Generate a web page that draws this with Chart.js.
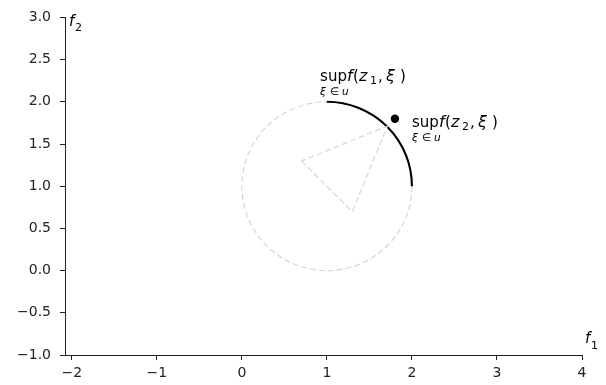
<!DOCTYPE html>
<html>
<head>
<meta charset="utf-8">
<script src="https://cdn.jsdelivr.net/npm/chart.js@4.4.0/dist/chart.umd.min.js"></script>
<style>
  html, body { margin: 0; padding: 0; background: #fff; }
  #wrap { width: 606px; height: 385px; }
</style>
</head>
<body>
<div id="wrap"><canvas id="c" width="606" height="385"></canvas></div>
<script>
// Axis ticks
const xTicks = [-2, -1, 0, 1, 2, 3, 4];
const yTicks = [-1, -0.5, 0, 0.5, 1, 1.5, 2, 2.5, 3];

// Uncertainty set: circle centred at (1, 1) with radius 1
const circleCenter = [1, 1];
const circleRadius = [1];
// Worst-case arc (degrees, counter-clockwise from the f1 direction)
const arcAngles = [0, 90];

// Dashed triangle inside the set
const triangleX = [0.7, 1.3, 1.71, 0.7];
const triangleY = [1.3, 0.7, 1.71, 1.3];

// Worst case of the second design
const pointX = [1.8];
const pointY = [1.8];

// Annotation anchors (left edge / baseline, data units) and their subscripts
const labelSubs = ['1', '2'];
const labelX = [0.92, 2.0];
const labelY = [2.25, 1.70];

const FONT = "'DejaVu Sans', 'Liberation Sans', sans-serif";
const INK = '#222';

function fmt(v, digits) {
  const s = Math.abs(v).toFixed(digits);
  return v < 0 ? '\u2212' + s : s;
}

const shapesPlugin = {
  id: 'shapes',
  beforeDatasetsDraw(chart) {
    const { ctx, scales: { x, y } } = chart;
    const cx = x.getPixelForValue(circleCenter[0]);
    const cy = y.getPixelForValue(circleCenter[1]);
    const rx = Math.abs(x.getPixelForValue(circleCenter[0] + circleRadius[0]) - cx);
    const ry = Math.abs(y.getPixelForValue(circleCenter[1] + circleRadius[0]) - cy);
    ctx.save();
    // dashed outline of the set
    ctx.beginPath();
    ctx.setLineDash([6, 3]);
    ctx.lineWidth = 1.2;
    ctx.strokeStyle = '#d6d6d6';
    ctx.ellipse(cx, cy, rx, ry, 0, 0, Math.PI * 2);
    ctx.stroke();
    // solid worst-case arc
    ctx.beginPath();
    ctx.setLineDash([]);
    ctx.lineWidth = 2.1;
    ctx.strokeStyle = '#000';
    const a0 = -arcAngles[1] * Math.PI / 180;
    const a1 = -arcAngles[0] * Math.PI / 180;
    ctx.ellipse(cx, cy, rx, ry, 0, a0, a1);
    ctx.stroke();
    ctx.restore();
  }
};

const textPlugin = {
  id: 'mathText',
  afterDatasetsDraw(chart) {
    const { ctx, chartArea, scales: { x, y } } = chart;
    const reg = "15px " + FONT;
    const ita = "italic 16px " + FONT;
    const sub = "11px " + FONT;
    const small = "10.5px " + FONT;
    const smallIta = "italic 10.5px " + FONT;
    const axIta = "italic 15px " + FONT;
    ctx.save();
    ctx.fillStyle = '#000';
    ctx.textBaseline = 'alphabetic';
    ctx.textAlign = 'left';
    const put = (t, f, px, py) => { ctx.font = f; ctx.fillText(t, px, py); };

    for (let i = 0; i < labelX.length; i++) {
      const px = x.getPixelForValue(labelX[i]);
      const py = y.getPixelForValue(labelY[i]);
      put('sup', reg, px, py);
      put('f', ita, px + 27, py);
      put('(', reg, px + 33, py);
      put('z', ita, px + 39, py);
      put(labelSubs[i], sub, px + 50, py + 3);
      put(',', reg, px + 58, py);
      put('\u03BE', ita, px + 66, py);
      put(')', reg, px + 80, py);
      // limits under the operator
      put('\u03BE', smallIta, px, py + 14);
      put('\u2208', small, px + 10, py + 14);
      put('u', smallIta, px + 22, py + 14);
    }

    // axis names
    put('f', axIta, chartArea.left + 4, chartArea.top + 9);
    put('2', sub, chartArea.left + 10, chartArea.top + 14);
    put('f', axIta, chartArea.right + 3, chartArea.bottom - 12);
    put('1', sub, chartArea.right + 9, chartArea.bottom - 6);
    ctx.restore();
  }
};

const axisCommon = {
  type: 'linear',
  grid: {
    drawOnChartArea: false,
    drawTicks: true,
    tickLength: 5,
    color: INK,
    lineWidth: 1
  },
  border: { display: true, color: INK, width: 1 }
};

new Chart(document.getElementById('c'), {
  type: 'scatter',
  data: {
    datasets: [
      {
        data: triangleX.map((v, i) => ({ x: v, y: triangleY[i] })),
        showLine: true,
        borderColor: '#d6d6d6',
        borderWidth: 1.2,
        borderDash: [6, 3],
        pointRadius: 0,
        fill: false,
        tension: 0
      },
      {
        data: pointX.map((v, i) => ({ x: v, y: pointY[i] })),
        pointRadius: 4.2,
        pointBackgroundColor: '#000',
        pointBorderWidth: 0,
        showLine: false
      }
    ]
  },
  options: {
    responsive: false,
    animation: false,
    devicePixelRatio: 1,
    layout: { padding: { left: 0, top: 14, right: 24, bottom: 0 } },
    plugins: { legend: { display: false }, tooltip: { enabled: false } },
    scales: {
      x: Object.assign({}, axisCommon, {
        min: -2.08,
        max: 4.0,
        afterBuildTicks: s => { s.ticks = xTicks.map(v => ({ value: v })); },
        afterFit: s => { s.height = 30; },
        ticks: {
          autoSkip: false,
          maxRotation: 0,
          padding: 5,
          color: INK,
          font: { family: FONT, size: 14 },
          callback: v => fmt(v, 0)
        }
      }),
      y: Object.assign({}, axisCommon, {
        min: -1,
        max: 3,
        afterBuildTicks: s => { s.ticks = yTicks.map(v => ({ value: v })); },
        afterFit: s => { s.width = 65; },
        ticks: {
          autoSkip: false,
          padding: 9,
          color: INK,
          font: { family: FONT, size: 14 },
          callback: v => fmt(v, 1)
        }
      })
    }
  },
  plugins: [shapesPlugin, textPlugin]
});
</script>
</body>
</html>
